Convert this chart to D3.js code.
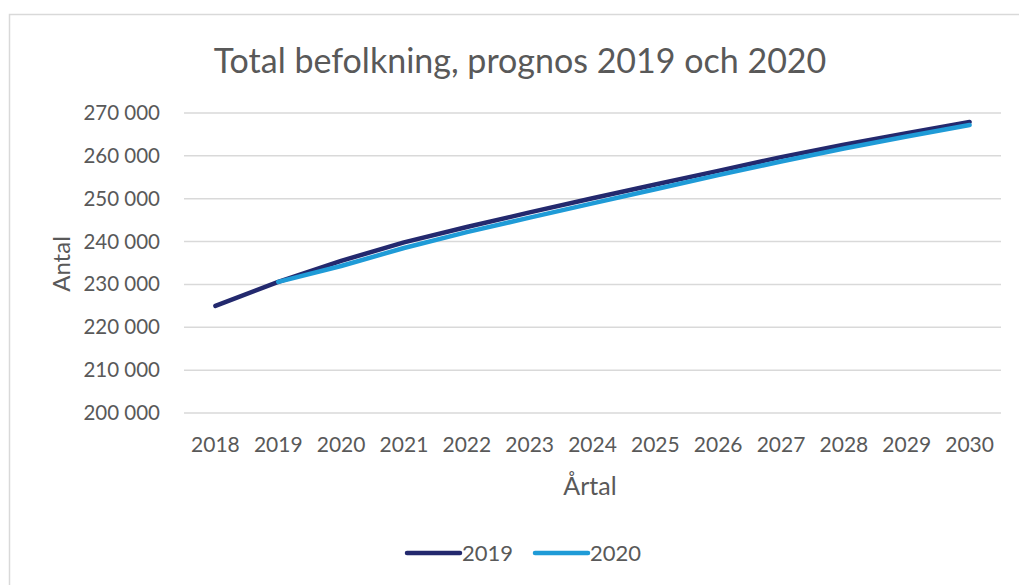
<!DOCTYPE html>
<html>
<head>
<meta charset="utf-8">
<script src="https://cdn.jsdelivr.net/npm/d3@7"></script>
<style>
  body { margin: 0; background: #fff; }
  svg { display: block; font-family: Lato, "Open Sans", sans-serif; }
</style>
</head>
<body>
<div id="chart"></div>
<script>
// Årtal på x-axeln
const years = ["2018", "2019", "2020", "2021", "2022", "2023", "2024",
               "2025", "2026", "2027", "2028", "2029", "2030"];

// Prognos 2019 (startar 2018)
const prognos2019 = [225000, 230600, 235500, 239800, 243400, 246800, 250100,
                     253300, 256500, 259700, 262600, 265300, 267900];

// Prognos 2020 (startar 2019)
const prognos2020 = [null, 230600, 234300, 238500, 242200, 245600, 248900,
                     252200, 255500, 258700, 261700, 264500, 267200];

const yTicks = [200000, 210000, 220000, 230000, 240000, 250000, 260000, 270000];

const series = [
    { name: "2019", values: prognos2019, color: "#23296e" },
    { name: "2020", values: prognos2020, color: "#1f9bd7" }
];

const width = 1019, height = 585;
const svg = d3.select("#chart").append("svg")
    .attr("width", width)
    .attr("height", height);

// ram runt diagrammet
svg.append("rect")
    .attr("x", 9.5).attr("y", 14.5)
    .attr("width", 1020).attr("height", 600)
    .attr("fill", "none")
    .attr("stroke", "#d9d9d9")
    .attr("stroke-width", 1.5);

const x = d3.scaleBand().domain(years).range([184, 1001]);
const y = d3.scaleLinear().domain([200000, 270000]).range([413, 113]);

const fmt = v => d3.format(",")(v).replace(/,/g, " ");

// rutnät
svg.append("g")
    .selectAll("line")
    .data(yTicks)
    .enter().append("line")
    .attr("x1", 184).attr("x2", 1001)
    .attr("y1", d => y(d)).attr("y2", d => y(d))
    .attr("stroke", "#d9d9d9")
    .attr("stroke-width", 1.5);

// y-axel
const yAxis = svg.append("g")
    .attr("transform", "translate(166,0)")
    .call(d3.axisLeft(y).tickValues(yTicks).tickFormat(fmt).tickSize(0).tickPadding(6));
yAxis.select(".domain").remove();
yAxis.selectAll("text")
    .attr("font-size", 20.5)
    .attr("fill", "#595959")
    .attr("font-family", "Lato, sans-serif");

// x-axel
const xAxis = svg.append("g")
    .attr("transform", "translate(0,413)")
    .call(d3.axisBottom(x).tickSize(0).tickPadding(24));
xAxis.select(".domain").remove();
xAxis.selectAll("text")
    .attr("font-size", 21)
    .attr("fill", "#595959")
    .attr("font-family", "Lato, sans-serif");

// linjer
const line = d3.line()
    .defined(d => d.v != null)
    .x(d => x(d.year) + x.bandwidth() / 2)
    .y(d => y(d.v));

series.forEach(s => {
    svg.append("path")
        .datum(years.map((yr, i) => ({ year: yr, v: s.values[i] })))
        .attr("d", line)
        .attr("fill", "none")
        .attr("stroke", s.color)
        .attr("stroke-width", 4.5)
        .attr("stroke-linecap", "round")
        .attr("stroke-linejoin", "round");
});

// titlar
svg.append("text")
    .attr("x", 520).attr("y", 73)
    .attr("text-anchor", "middle")
    .attr("font-size", 34)
    .attr("fill", "#595959")
    .text("Total befolkning, prognos 2019 och 2020");

svg.append("text")
    .attr("x", 590).attr("y", 495)
    .attr("text-anchor", "middle")
    .attr("font-size", 25)
    .attr("fill", "#595959")
    .text("Årtal");

svg.append("text")
    .attr("transform", "translate(70,264) rotate(-90)")
    .attr("text-anchor", "middle")
    .attr("font-size", 24)
    .attr("fill", "#595959")
    .text("Antal");

// förklaring
const legend = svg.append("g").attr("transform", "translate(0,553)");
const legendX = [407, 535];
series.forEach((s, i) => {
    legend.append("line")
        .attr("x1", legendX[i]).attr("x2", legendX[i] + 53)
        .attr("y1", 0).attr("y2", 0)
        .attr("stroke", s.color)
        .attr("stroke-width", 4.5)
        .attr("stroke-linecap", "round");
    legend.append("text")
        .attr("x", legendX[i] + 55).attr("y", 8)
        .attr("font-size", 22)
        .attr("fill", "#595959")
        .text(s.name);
});
</script>
</body>
</html>
